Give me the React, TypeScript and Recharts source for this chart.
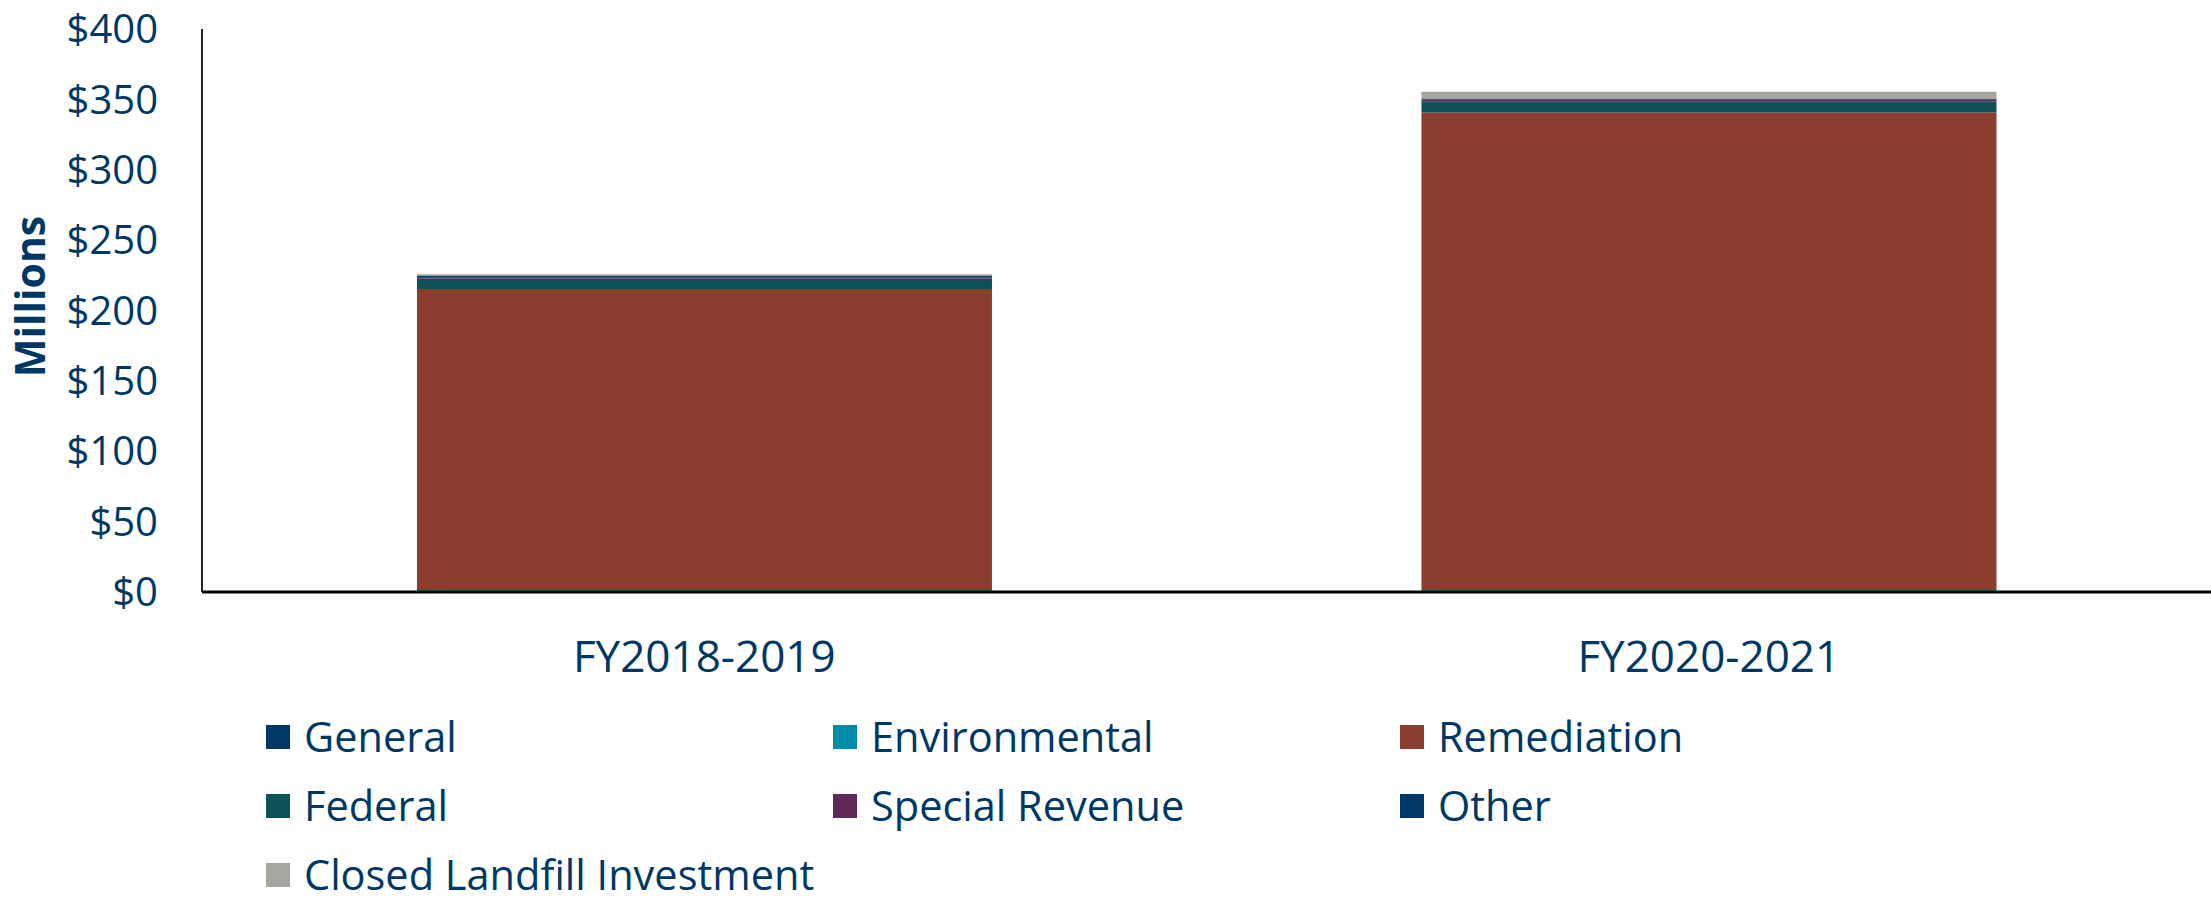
import React from 'react';
import { BarChart, Bar, XAxis, YAxis, Legend } from 'recharts';

// fiscal years on the x axis
const categories = ['FY2018-2019', 'FY2020-2021'];

// values in $ millions (bottom to top)
const general = [0, 0];
const environmental = [1.4, 1.4];
const remediation = [213.8, 339.3];
const federal = [7.4, 8.0];
const specialRevenue = [0.6, 1.4];
const other = [1.4, 0.6];
const closedLandfill = [1.2, 4.8];

const yTicks = [0, 50, 100, 150, 200, 250, 300, 350, 400];

const series = [
  { key: 'general', name: 'General', color: '#003865' },
  { key: 'environmental', name: 'Environmental', color: '#008CA8' },
  { key: 'remediation', name: 'Remediation', color: '#8B3D2E' },
  { key: 'federal', name: 'Federal', color: '#0C5256' },
  { key: 'specialRevenue', name: 'Special Revenue', color: '#5E2858' },
  { key: 'other', name: 'Other', color: '#003865' },
  { key: 'closedLandfill', name: 'Closed Landfill Investment', color: '#A6A69E' },
];

const data = categories.map((name, i) => ({
  name,
  general: general[i],
  environmental: environmental[i],
  remediation: remediation[i],
  federal: federal[i],
  specialRevenue: specialRevenue[i],
  other: other[i],
  closedLandfill: closedLandfill[i],
}));

const TEXT = '#003865';
const FONT = '"Open Sans", sans-serif';

const renderLegend = () => (
  <div
    style={{
      display: 'grid',
      gridTemplateColumns: 'repeat(3, 567px)',
      gridAutoRows: '69px',
      fontFamily: FONT,
      fontSize: 41.5,
      lineHeight: 1,
      color: TEXT,
    }}
  >
    {series.map((s) => (
      <div key={s.key} style={{ display: 'flex', alignItems: 'center', whiteSpace: 'nowrap' }}>
        <span style={{ width: 24, height: 24, background: s.color, marginRight: 14, flex: 'none' }} />
        <span>{s.name}</span>
      </div>
    ))}
  </div>
);

export default function App() {
  return (
    <div style={{ position: 'absolute', left: 0, top: 0, background: '#fff' }}>
      <BarChart
        width={2211}
        height={903}
        data={data}
        margin={{ top: 29, right: 0, bottom: 211, left: 0 }}
        barCategoryGap="21.4%"
      >
        <XAxis
          dataKey="name"
          height={100}
          axisLine={{ stroke: '#000', strokeWidth: 3 }}
          tickLine={false}
          tickMargin={43}
          tick={{ fill: TEXT, fontSize: 44, fontFamily: FONT }}
        />
        <YAxis
          width={202}
          domain={[0, 400]}
          ticks={yTicks}
          interval={0}
          tickFormatter={(v) => `$${v}`}
          axisLine={{ stroke: '#222', strokeWidth: 2 }}
          tickLine={false}
          tickMargin={38}
          tick={{ fill: TEXT, fontSize: 40, fontFamily: FONT }}
          label={{
            value: 'Millions',
            angle: -90,
            position: 'insideLeft',
            offset: 30,
            dy: -14,
            style: { fill: TEXT, fontSize: 41, fontWeight: 700, fontFamily: FONT, textAnchor: 'middle' },
          }}
        />
        <Legend
          layout="horizontal"
          verticalAlign="middle"
          align="center"
          content={renderLegend}
          wrapperStyle={{ top: 702, left: 266, width: 1800 }}
        />
        {series.map((s) => (
          <Bar
            key={s.key}
            dataKey={s.key}
            name={s.name}
            stackId="a"
            fill={s.color}
            isAnimationActive={false}
          />
        ))}
      </BarChart>
    </div>
  );
}
